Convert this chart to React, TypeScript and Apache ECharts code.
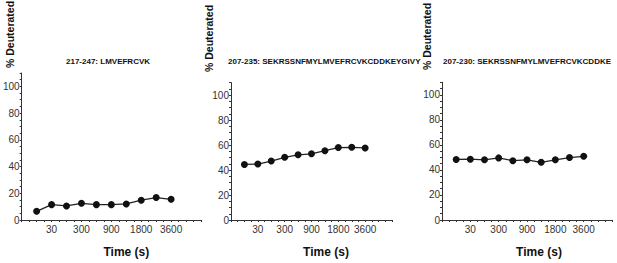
import React, { useEffect, useRef } from "react";
import * as echarts from "echarts";

const titles = [
  "217-247: LMVEFRCVK",
  "207-235: SEKRSSNFMYLMVEFRCVKCDDKEYGIVY",
  "207-230: SEKRSSNFMYLMVEFRCVKCDDKE",
];
const timeIndex = [1, 2, 3, 4, 5, 6, 7, 8, 9, 10];
const tickPositions = [2, 4, 6, 8, 10];
const tickLabels = ["30", "300", "900", "1800", "3600"];
const deut217_247 = [6.5, 11.5, 10.5, 12.5, 11.5, 11.5, 12, 14.8, 16.8, 15.5];
const deut207_235 = [44.5, 44.8, 47.2, 50.2, 52.2, 53, 55.5, 58, 58.2, 57.7];
const deut207_230 = [48.4, 48.6, 48.1, 49.6, 47.4, 48.1, 46.1, 48.1, 49.9, 50.9];
const yName = "% Deuterated";
const xName = "Time (s)";

export default function App() {
  const ref = useRef<HTMLDivElement>(null);
  useEffect(() => {
    document.body.style.margin = "0";
    if (!ref.current) return;
    const chart = echarts.init(ref.current, undefined, { renderer: "svg" });
    const seriesData = [deut217_247, deut207_235, deut207_230];
    const grids = [
      { left: 19, top: 73, width: 182, height: 157 },
      { left: 231, top: 82.6, width: 161, height: 147.4 },
      { left: 442, top: 82.3, width: 170, height: 147 },
    ];
    const namePad = [30, 29, 24];
    const titleLeft = [66, 228, 443];
    const yNamePos = [
      [10, 68],
      [209, 72],
      [427, 70],
    ];
    const axisColor = "#333";
    chart.setOption({
      animation: false,
      textStyle: { fontFamily: "Liberation Sans, Arial, sans-serif" },
      title: titles.map((t, i) => ({
        text: t,
        left: titleLeft[i],
        top: 57,
        padding: 0,
        textStyle: { fontSize: 8, fontWeight: "bold", color: "#111" },
      })),
      grid: grids.map((g) => ({ ...g, containLabel: false })),
      xAxis: grids.map((_, i) => ({
        type: "value",
        gridIndex: i,
        min: 0,
        max: 12,
        interval: 1,
        name: xName,
        nameLocation: "middle",
        nameGap: 26,
        nameTextStyle: {
          fontSize: 12,
          fontWeight: "bold",
          color: "#111",
          padding: [0, 0, 0, namePad[i]],
        },
        axisLine: { show: true, lineStyle: { color: axisColor, width: 1 } },
        axisTick: { show: true, length: 2, lineStyle: { color: axisColor } },
        minorTick: { show: true, splitNumber: 2, length: 2, lineStyle: { color: axisColor } },
        splitLine: { show: false },
        axisLabel: {
          fontSize: 10,
          color: "#333",
          margin: 4,
          formatter: (v: number) => {
            const k = tickPositions.indexOf(v);
            return k >= 0 ? tickLabels[k] : "";
          },
        },
      })),
      yAxis: grids.map((_, i) => ({
        type: "value",
        gridIndex: i,
        min: 0,
        max: 110,
        interval: 20,
        axisLine: { show: true, lineStyle: { color: axisColor, width: 1 } },
        axisTick: { show: true, length: 2, lineStyle: { color: axisColor } },
        minorTick: { show: true, splitNumber: 4, length: 2, lineStyle: { color: axisColor } },
        splitLine: { show: false },
        axisLabel: {
          fontSize: 10,
          color: "#333",
          margin: 2,
          formatter: (v: number) => (v > 100 ? "" : String(v)),
        },
      })),
      graphic: yNamePos.map((p) => ({
        type: "text",
        x: p[0],
        y: p[1],
        rotation: Math.PI / 2,
        style: {
          text: yName,
          fontSize: 10.5,
          fontWeight: "bold",
          fill: "#111",
          align: "left",
          verticalAlign: "middle",
          fontFamily: "Liberation Sans, Arial, sans-serif",
        },
      })),
      series: seriesData.map((d, i) => ({
        type: "line",
        xAxisIndex: i,
        yAxisIndex: i,
        data: timeIndex.map((x, k) => [x, d[k]]),
        symbol: "circle",
        symbolSize: 7,
        itemStyle: { color: "#111" },
        lineStyle: { color: "#222", width: 1.3 },
      })),
    });
    return () => chart.dispose();
  }, []);
  return <div ref={ref} style={{ width: 617, height: 263 }} />;
}
